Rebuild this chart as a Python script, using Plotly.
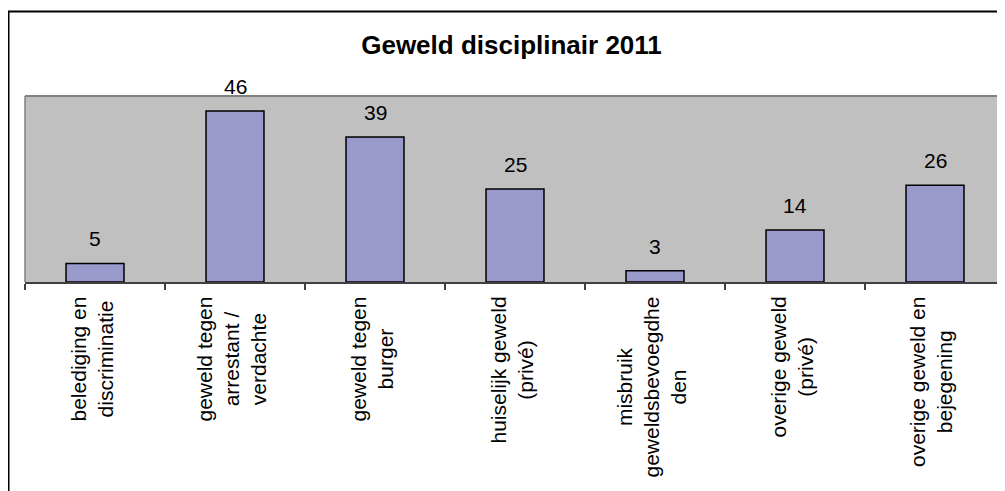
import plotly.graph_objects as go

categories = [
    "belediging en<br>discriminatie",
    "geweld tegen<br>arrestant /<br>verdachte",
    "geweld tegen<br>burger",
    "huiselijk geweld<br>(privé)",
    "misbruik<br>geweldsbevoegdhe<br>den",
    "overige geweld<br>(privé)",
    "overige geweld en<br>bejegening",
]
values = [5, 46, 39, 25, 3, 14, 26]
title_text = "Geweld disciplinair 2011"

# page body has an 8px margin, so the figure is laid out 8px smaller
W, H = 997, 483
L, R, T, B = 17, 0, 88, 209
pw = W - L - R
ph = H - T - B


def px_x(p):
    return (p - L) / pw


def px_y(p):
    return (H - B - p) / ph


FONT = "Liberation Sans, Arial, sans-serif"
keys = [f"c{i}" for i in range(len(categories))]

fig = go.Figure()
fig.add_trace(go.Bar(
    x=keys, y=values,
    marker=dict(color="#9999CC", line=dict(color="black", width=1.5)),
    hoverinfo="skip",
))

annotations = []
for k, v in zip(keys, values):
    annotations.append(dict(
        x=k, y=v, xref="x", yref="y", text=str(v), showarrow=False,
        xanchor="center", yanchor="bottom", yshift=11,
        font=dict(family=FONT, size=21, color="black"),
    ))
for k, c in zip(keys, categories):
    annotations.append(dict(
        x=k, y=px_y(288), xref="x", yref="paper", text=c, showarrow=False,
        textangle=-90, xanchor="center", yanchor="top", align="center",
        borderpad=0, xshift=-4,
        font=dict(family=FONT, size=21, color="black"),
    ))

fig.update_layout(
    width=W, height=H,
    margin=dict(l=L, r=R, t=T, b=B, pad=0),
    paper_bgcolor="white",
    plot_bgcolor="#C0C0C0",
    showlegend=False,
    bargap=0.586,
    title=dict(
        text=f"<b>{title_text}</b>", x=503.5 / W, xanchor="center",
        xref="container",
        y=1 - 37 / H, yanchor="middle", yref="container",
        font=dict(family=FONT, size=26, color="black"),
    ),
    xaxis=dict(
        type="category", showticklabels=False, ticks="outside",
        tickson="boundaries", ticklen=6, tickcolor="#404040", tickwidth=1.5,
        showline=True, linecolor="#404040", linewidth=1.5,
        showgrid=False, zeroline=False,
    ),
    yaxis=dict(
        range=[0, 50], showticklabels=False, showgrid=False, zeroline=False,
        showline=False, ticks="",
    ),
    annotations=annotations,
    shapes=[
        dict(type="line", xref="paper", yref="paper", x0=0, x1=1,
             y0=1, y1=1, line=dict(color="#808080", width=2)),
        dict(type="line", xref="paper", yref="paper", x0=0, x1=0,
             y0=0, y1=1, line=dict(color="#808080", width=1.5)),
        dict(type="rect", xref="paper", yref="paper",
             x0=px_x(0.5), x1=px_x(1010), y0=px_y(500), y1=px_y(3.5),
             line=dict(color="black", width=2), layer="above"),
    ],
)

fig.write_html("out.html")
